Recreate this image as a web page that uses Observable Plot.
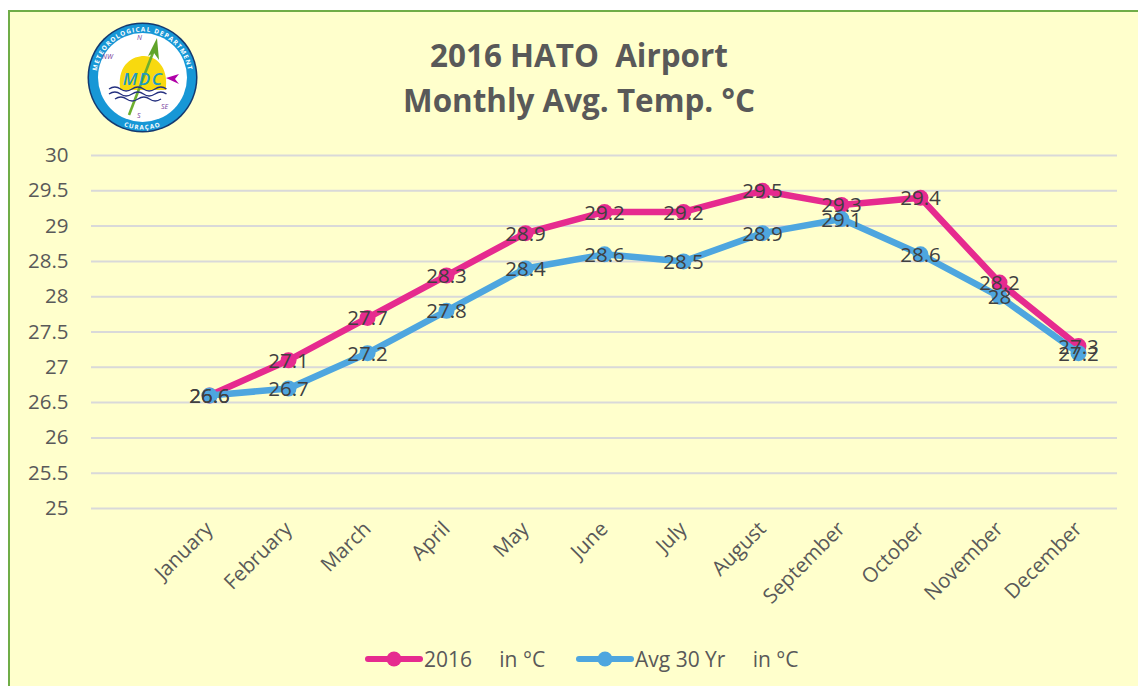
<!DOCTYPE html>
<html>
<head>
<meta charset="utf-8">
<script src="https://cdn.jsdelivr.net/npm/d3@7"></script>
<script src="https://cdn.jsdelivr.net/npm/@observablehq/plot@0.6"></script>
<style>
html,body{margin:0;padding:0;background:#fff;overflow:hidden}
#frame{position:absolute;left:8px;top:10px;width:1130px;height:676px;box-sizing:border-box;background:#FFFFCC;border-left:2px solid #70AD47;border-top:2px solid #70AD47;}
#page{position:absolute;left:0;top:0;width:1138px;height:686px;font-family:"Open Sans",sans-serif}
#title{position:absolute;left:0;top:32px;width:1158px;text-align:center;font-weight:700;font-size:31.4px;line-height:45px;color:#595959;white-space:pre}
#logo{position:absolute;left:85px;top:20px}
#chart{position:absolute;left:0;top:140px}
#chart svg{background:transparent;display:block}
#legend{position:absolute;left:0;top:644px;width:1138px;height:30px;font-size:21px;color:#595959}
#legend .item{position:absolute;top:0;display:flex;align-items:center;height:30px;white-space:pre}
#legend svg{margin-right:1px}
</style>
</head>
<body>
<div id="frame"></div>
<div id="page">
  <div id="title">2016 HATO  Airport
Monthly Avg. Temp. °C</div>
  <svg id="logo" width="116" height="116" viewBox="0 0 116 116">
    <defs>
      <path id="arcTop" d="M 11.5 57.5 A 46 46 0 0 1 103.5 57.5"/>
      <path id="arcBot" d="M 5.5 57.5 A 52 52 0 0 0 109.5 57.5"/>
    </defs>
    <circle cx="57.5" cy="57.5" r="55" fill="#143a70"/>
    <circle cx="57.5" cy="57.5" r="53.5" fill="#1797d6"/>
    <circle cx="57.5" cy="57.5" r="44.5" fill="#fff"/>
    <text font-family="Open Sans" font-size="6.4" font-weight="700" fill="#fff" letter-spacing="1.1"><textPath href="#arcTop" startOffset="50%" text-anchor="middle">METEOROLOGICAL DEPARTMENT</textPath></text>
    <text font-family="Open Sans" font-size="6.2" font-weight="700" fill="#fff" letter-spacing="1.2"><textPath href="#arcBot" startOffset="50%" text-anchor="middle">CURAÇAO</textPath></text>
    <path d="M 35 67 C 33 44 48 36 59 36 C 72 36 83 48 81 67 L 81 70 L 35 70 Z" fill="#F8D90F"/>
    <line x1="44" y1="95" x2="69" y2="30" stroke="#6DAF2E" stroke-width="2.6"/>
    <path d="M 72 18 L 74 40 L 69 33 L 63 36 Z" fill="#5FA32A"/>
    <path d="M 81 58 L 94 54 L 90 59 L 94 64 Z" fill="#B000A8"/>
    <text x="58" y="65" text-anchor="middle" font-family="Open Sans" font-style="italic" font-weight="600" font-size="17" letter-spacing="1.5" fill="#1C9BC4">MDC</text>
    <g fill="none" stroke="#25307f" stroke-width="1.4">
      <path d="M 24 69 q 6 -4 11.5 0 t 11.5 0 t 11.5 0 t 11.5 0 t 11.5 0"/>
      <path d="M 24 74 q 6 -4 11.5 0 t 11.5 0 t 11.5 0 t 11.5 0 t 11.5 0"/>
      <path d="M 30 79 q 6 -4 11.5 0 t 11.5 0 t 11.5 0 t 11.5 0"/>
    </g>
    <g font-family="Open Sans" font-style="italic" font-size="7" fill="#7a3fa0">
      <text x="52" y="20">N</text><text x="17" y="39">NW</text><text x="76" y="89">SE</text><text x="52" y="98">S</text>
    </g>
  </svg>
  <div id="chart"></div>
  <div id="legend"></div>
</div>
<script>
const months = ["January","February","March","April","May","June","July","August","September","October","November","December"];
const temp2016 = [26.6,27.1,27.7,28.3,28.9,29.2,29.2,29.5,29.3,29.4,28.2,27.3];
const avg30 = [26.6,26.7,27.2,27.8,28.4,28.6,28.5,28.9,29.1,28.6,28,27.2];
const yTicks = [25,25.5,26,26.5,27,27.5,28,28.5,29,29.5,30];
const seriesNames = ["2016     in °C","Avg 30 Yr     in °C"];
const pink = "#E62B8F", blue = "#4EA6DF";

const rows2016 = months.map((m,i)=>({month:m,value:temp2016[i]}));
const rowsAvg = months.map((m,i)=>({month:m,value:avg30[i]}));
const labelStyle = {x:"month",y:"value",text:d=>String(d.value),fill:"#404040",fontSize:20.5,dy:1,lineAnchor:"middle"};

const chart = Plot.plot({
  width:1138,height:490,
  marginLeft:91,marginRight:21,marginTop:15,marginBottom:122,
  style:{background:"transparent",fontFamily:"'Open Sans',sans-serif"},
  x:{type:"point",domain:months,range:[208,1078],padding:0},
  y:{domain:[25,30],range:[368,15]},
  marks:[
    Plot.ruleY(yTicks,{stroke:"#D9D9D9",strokeWidth:2}),
    Plot.axisY({ticks:yTicks,tickSize:0,tickPadding:23,tickFormat:d=>String(d),fontSize:20.5,label:null,fill:"#595959"}),
    Plot.axisX({tickSize:0,tickRotate:-45,tickPadding:17,fontSize:20.5,label:null,fill:"#595959",textAnchor:"end"}),
    Plot.line(rows2016,{x:"month",y:"value",stroke:pink,strokeWidth:6.5,curve:"linear"}),
    Plot.dot(rows2016,{x:"month",y:"value",fill:pink,r:8}),
    Plot.line(rowsAvg,{x:"month",y:"value",stroke:blue,strokeWidth:6.5,curve:"linear"}),
    Plot.dot(rowsAvg,{x:"month",y:"value",fill:blue,r:8}),
    Plot.text(rows2016,labelStyle),
    Plot.text(rowsAvg,labelStyle)
  ]
});
document.getElementById("chart").append(chart);

const legend = document.getElementById("legend");
[[365,pink,seriesNames[0]],[576,blue,seriesNames[1]]].forEach(([left,color,name])=>{
  const item = document.createElement("div");
  item.className="item"; item.style.left=left+"px";
  item.innerHTML=`<svg width="58" height="30"><line x1="3" x2="55" y1="15" y2="15" stroke="${color}" stroke-width="6" stroke-linecap="round"/><circle cx="29" cy="15" r="7.5" fill="${color}"/></svg><span>${name}</span>`;
  legend.append(item);
});
</script>
</body>
</html>
